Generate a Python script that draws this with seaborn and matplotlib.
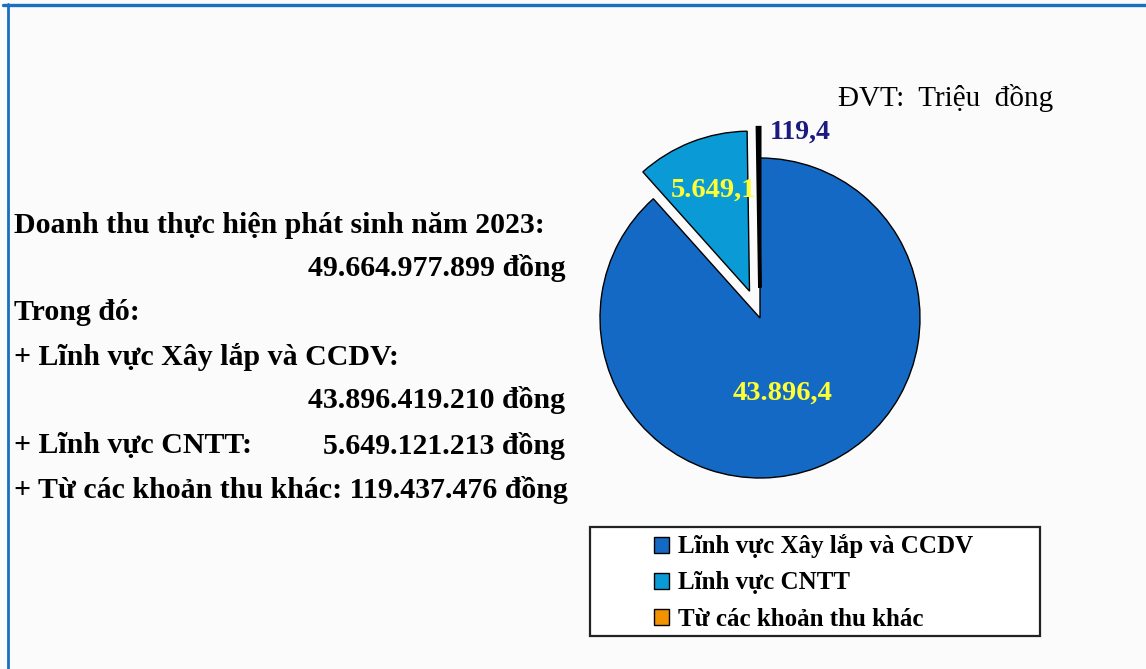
import matplotlib
matplotlib.use("Agg")
import matplotlib.pyplot as plt
import seaborn as sns
import numpy as np
from matplotlib.lines import Line2D
from matplotlib.patches import Rectangle

# Data (trieu dong)
categories = ["Lĩnh vực Xây lắp và CCDV", "Lĩnh vực CNTT", "Từ các khoản thu khác"]
values = [43896.4, 5649.1, 119.4]
value_labels = ["43.896,4", "5.649,1", "119,4"]
explode = [0.0, 0.18, 0.19]
colors = ["#1469c4", "#0a9bd6", "#f39200"]

summary_lines = [
    ("Doanh thu thực hiện phát sinh năm 2023:", ""),
    ("", "49.664.977.899 đồng"),
    ("Trong đó:", ""),
    ("+ Lĩnh vực Xây lắp và CCDV:", ""),
    ("", "43.896.419.210 đồng"),
    ("+ Lĩnh vực CNTT:", "5.649.121.213 đồng"),
    ("+ Từ các khoản thu khác: 119.437.476 đồng", ""),
]

sns.set_theme(style="white")
plt.rcParams["font.family"] = ["Liberation Serif", "DejaVu Serif"]
plt.rcParams["text.color"] = "black"

W, H = 1146, 669
fig = plt.figure(figsize=(W / 100, H / 100), dpi=100)
fig.patch.set_facecolor("#fbfbfb")


def fx(px):
    return px / W


def fy(py):
    return 1 - py / H


# frame lines (top and left)
fig.add_artist(Line2D([fx(3), 1], [fy(5), fy(5)], color="#1a6fc0", lw=2.4))
fig.add_artist(Line2D([fx(8), fx(8)], [fy(4), 0], color="#1a6fc0", lw=2.0))

# pie
cx, cy, r = 760, 318, 160
size = 2.5 * r
ax = fig.add_axes([fx(cx - size / 2), fy(cy + size / 2), size / W, size / H])
wedges, _ = ax.pie(values, colors=colors, explode=explode, startangle=90,
                   counterclock=False,
                   wedgeprops=dict(edgecolor="black", linewidth=1.0))
wedges[2].set_linewidth(2.5)

# value labels
total = sum(values)
start = 90.0
mids = []
for v in values:
    span = 360.0 * v / total
    mids.append(start - span / 2)
    start -= span

dists = [0.5, 0.86, 1.16]
for i, (lab, m, d) in enumerate(zip(value_labels, mids, dists)):
    t = np.deg2rad(m)
    x, y = d * np.cos(t), d * np.sin(t)
    if i == 2:
        ax.annotate(lab, (x, y), xytext=(8, 0), textcoords="offset points",
                    ha="left", va="center", fontsize=20, fontweight="bold",
                    color="#1a1a80")
    else:
        ax.text(x - (0.04 if i == 0 else -0.02), y, lab, ha="center", va="center",
                fontsize=20.5, fontweight="bold", color="#ffff33")

# unit
fig.text(fx(838), fy(98), "ĐVT:  Triệu  đồng", fontsize=21, ha="left",
         va="center")

# left summary text
ys = [225, 268, 313, 357, 400, 446, 490]
for (left, right), y in zip(summary_lines, ys):
    if left:
        fig.text(fx(14), fy(y), left, fontsize=21.5, fontweight="bold",
                 ha="left", va="center")
    if right:
        fig.text(fx(565), fy(y), right, fontsize=21.5, fontweight="bold",
                 ha="right", va="center")

# legend box
fig.add_artist(Rectangle((fx(590), fy(636)), fx(1040) - fx(590), fy(527) - fy(636),
                         transform=fig.transFigure, facecolor="white",
                         edgecolor="#222222", lw=1.6))
handles = [Rectangle((0, 0), 1, 1, facecolor=c, edgecolor="black", lw=1.0)
           for c in colors]
leg = fig.legend(handles, categories, loc="upper left",
                 bbox_to_anchor=(fx(631), fy(512)), frameon=False,
                 prop=dict(size=18, weight="bold"), handlelength=0.6,
                 handleheight=0.6, handletextpad=0.4, labelspacing=0.52)

fig.savefig("out.png", dpi=100, facecolor=fig.get_facecolor())
